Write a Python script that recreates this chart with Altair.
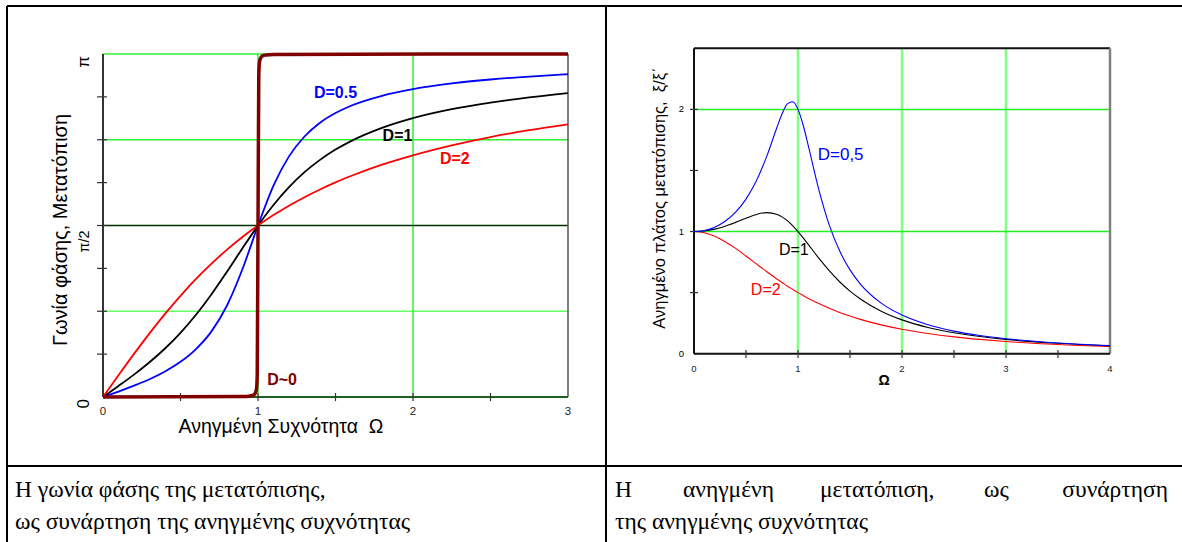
import math
import altair as alt
import pandas as pd

PI = math.pi

# ---------------- left panel: phase angle vs reduced frequency ----------------
omega_phase = [0, 0.1, 0.2, 0.3, 0.4, 0.5, 0.6, 0.7, 0.8, 0.9, 1.0, 1.1, 1.2, 1.3,
               1.4, 1.5, 1.6, 1.8, 2.0, 2.25, 2.5, 2.75, 3.0]
phase_d05 = [0, 0.050, 0.104, 0.163, 0.234, 0.322, 0.439, 0.601, 0.838, 1.172, 1.571,
             1.936, 2.204, 2.386, 2.512, 2.601, 2.668, 2.759, 2.820, 2.872, 2.908, 2.935, 2.956]
phase_d1 = [0, 0.101, 0.205, 0.318, 0.444, 0.588, 0.753, 0.941, 1.148, 1.363, 1.571,
            1.759, 1.922, 2.059, 2.172, 2.266, 2.344, 2.465, 2.554, 2.636, 2.697, 2.744, 2.783]
phase_d2 = [0, 0.199, 0.395, 0.583, 0.761, 0.927, 1.081, 1.221, 1.350, 1.466, 1.571,
            1.666, 1.752, 1.830, 1.901, 1.966, 2.024, 2.128, 2.214, 2.305, 2.381, 2.444, 2.498]
omega_d0 = [0, 0.90, 0.95, 0.97, 0.98, 0.99, 0.995, 1.0, 1.005, 1.01, 1.02, 1.03, 1.05, 1.10, 3.0]
phase_d0 = [0, 0.004, 0.010, 0.017, 0.030, 0.070, 0.200, 1.571, 2.942, 3.072, 3.112,
            3.125, 3.132, 3.138, 3.1416]

phase_label_text = ["D=0.5", "D=1", "D=2", "D~0"]
phase_label_x = [1.50, 1.90, 2.27, 1.155]
phase_label_y = [2.78, 2.39, 2.18, 0.156]

phase_xtick_values = [0, 1, 2, 3]
phase_xtick_labels = ["0", "1", "2", "3"]
phase_ytick_values = [0, 1.5708, 3.1416]
phase_ytick_labels = ["0", "π/2", "π"]
phase_xminor = [0.5, 1.0, 1.5, 2.0, 2.5]
phase_yminor = [0.3927, 0.7854, 1.1781, 1.5708, 1.9635, 2.3562, 2.7489]
phase_grid_light = [0.7854]
phase_grid_green = [2.3562, 3.1416]
phase_grid_dark = [1.5708]
phase_grid_x = [1, 2]

# ---------------- right panel: reduced amplitude vs reduced frequency ----------------
omega_amp = [0, 0.1, 0.2, 0.3, 0.4, 0.5, 0.6, 0.7, 0.8, 0.85, 0.9, 0.95, 1.0, 1.05, 1.1,
             1.2, 1.3, 1.4, 1.5, 1.6, 1.8, 2.0, 2.25, 2.5, 2.75, 3.0, 3.5, 4.0]
amp_d05 = [1.000, 1.009, 1.036, 1.084, 1.158, 1.265, 1.415, 1.617, 1.858, 1.970, 2.047,
           2.062, 2.000, 1.870, 1.699, 1.344, 1.055, 0.842, 0.686, 0.570, 0.414, 0.316,
           0.237, 0.185, 0.149, 0.123, 0.088, 0.066]
amp_d1 = [1.000, 1.005, 1.020, 1.044, 1.075, 1.109, 1.140, 1.155, 1.140, 1.118, 1.087,
          1.047, 1.000, 0.948, 0.893, 0.782, 0.680, 0.589, 0.512, 0.448, 0.348, 0.277,
          0.215, 0.172, 0.141, 0.117, 0.085, 0.064]
amp_d2 = [1.000, 0.990, 0.962, 0.917, 0.862, 0.800, 0.735, 0.671, 0.610, 0.581, 0.552,
          0.526, 0.500, 0.476, 0.452, 0.410, 0.372, 0.338, 0.308, 0.281, 0.236, 0.200,
          0.165, 0.138, 0.117, 0.100, 0.075, 0.059]

amp_label_text = ["D=0,5", "D=1", "D=2"]
amp_label_x = [1.41, 0.96, 0.69]
amp_label_y = [1.63, 0.85, 0.52]

amp_xtick_values = [0, 1, 2, 3, 4]
amp_xtick_labels = ["0", "1", "2", "3", "4"]
amp_ytick_values = [0, 1, 2]
amp_ytick_labels = ["0", "1", "2"]
amp_xminor = [0.5, 1.0, 1.5, 2.0, 2.5, 3.0, 3.5]
amp_yminor = [0.5, 1.0, 1.5, 2.0]
amp_grid_x = [1, 2, 3]
amp_grid_y = [1, 2]

FONT = "Liberation Sans"
SERIF = "Liberation Serif, DejaVu Serif, serif"

xL = alt.Scale(domain=[0, 3], range=[103, 568], nice=False, zero=False)
yL = alt.Scale(domain=[0, PI], range=[397, 54], nice=False, zero=False)
xR = alt.Scale(domain=[0, 4], range=[694, 1110], nice=False, zero=False)
yR = alt.Scale(domain=[0, 2.5], range=[353.7, 48.3], nice=False, zero=False)


def hlines(vals, x0, x1, xs, ys, color, width):
    df = pd.DataFrame({"v": vals, "a": [x0] * len(vals), "b": [x1] * len(vals)})
    return alt.Chart(df).mark_rule(color=color, strokeWidth=width).encode(
        y=alt.Y("v:Q", scale=ys, axis=None),
        x=alt.X("a:Q", scale=xs, axis=None),
        x2="b:Q")


def vlines(vals, y0, y1, xs, ys, color, width):
    df = pd.DataFrame({"v": vals, "a": [y0] * len(vals), "b": [y1] * len(vals)})
    return alt.Chart(df).mark_rule(color=color, strokeWidth=width).encode(
        x=alt.X("v:Q", scale=xs, axis=None),
        y=alt.Y("a:Q", scale=ys, axis=None),
        y2="b:Q")


def yticks(vals, ys, px0, px1):
    return alt.Chart(pd.DataFrame({"v": vals})).mark_rule(color="#333333", strokeWidth=1.2).encode(
        y=alt.Y("v:Q", scale=ys, axis=None), x=alt.value(px0), x2=alt.value(px1))


def xticks(vals, xs, py0, py1):
    return alt.Chart(pd.DataFrame({"v": vals})).mark_rule(color="#333333", strokeWidth=1.2).encode(
        x=alt.X("v:Q", scale=xs, axis=None), y=alt.value(py0), y2=alt.value(py1))


def xlabels(vals, texts, xs, py, size):
    df = pd.DataFrame({"v": vals, "t": texts})
    return alt.Chart(df).mark_text(font=FONT, fontSize=size, color="#222222", align="center",
                                   baseline="middle").encode(
        x=alt.X("v:Q", scale=xs, axis=None), y=alt.value(py), text="t:N")


def ylabels(vals, texts, ys, px, size, angle=0, align="right", baseline="middle", yoff=0):
    df = pd.DataFrame({"v": vals, "t": texts})
    return alt.Chart(df).mark_text(font=FONT, fontSize=size, color="black", align=align,
                                   baseline=baseline, angle=angle).encode(
        y=alt.Y("v:Q", scale=ys, axis=None), x=alt.value(px), yOffset=alt.value(yoff),
        text="t:N")


def curve(xv, yv, xs, ys, color, width):
    df = pd.DataFrame({"x": xv, "y": yv})
    return alt.Chart(df).mark_line(color=color, strokeWidth=width, interpolate="monotone").encode(
        x=alt.X("x:Q", scale=xs, axis=None),
        y=alt.Y("y:Q", scale=ys, axis=None))


def dlabel(text, x, y, xs, ys, color, size, weight):
    df = pd.DataFrame({"x": [x], "y": [y], "t": [text]})
    return alt.Chart(df).mark_text(color=color, font=FONT, fontSize=size, fontWeight=weight,
                                   align="center", baseline="middle").encode(
        x=alt.X("x:Q", scale=xs, axis=None),
        y=alt.Y("y:Q", scale=ys, axis=None),
        text="t:N")


left = alt.layer(
    hlines(phase_grid_light, 0, 3, xL, yL, "#66ff66", 1.5),
    hlines(phase_grid_green, 0, 3, xL, yL, "#33ee33", 1.5),
    vlines(phase_grid_x, 0, PI, xL, yL, "#33ee33", 1.5),
    hlines(phase_grid_dark, 0, 3, xL, yL, "#003300", 1.5),
    vlines([3], 0, PI, xL, yL, "#555555", 1.5),
    hlines([0], 0, 3, xL, yL, "#1f5f1f", 2.2),
    vlines([0], 0, PI, xL, yL, "#333333", 2),
    yticks(phase_yminor, yL, 97, 107),
    xticks(phase_xminor, xL, 393, 401),
    xlabels(phase_xtick_values, phase_xtick_labels, xL, 411.5, 11.5),
    ylabels(phase_ytick_values[0:1] + phase_ytick_values[2:], phase_ytick_labels[0:1] + phase_ytick_labels[2:],
            yL, 89, 17, angle=270, align="right", baseline="alphabetic", yoff=2),
    ylabels(phase_ytick_values[1:2], phase_ytick_labels[1:2],
            yL, 89, 14.5, angle=270, align="right", baseline="alphabetic", yoff=5),
    curve(omega_phase, phase_d05, xL, yL, "#0000ff", 1.8),
    curve(omega_phase, phase_d1, xL, yL, "#000000", 1.8),
    curve(omega_phase, phase_d2, xL, yL, "#ff0000", 1.8),
    curve(omega_d0, phase_d0, xL, yL, "#800000", 3.5),
    dlabel(phase_label_text[0], phase_label_x[0], phase_label_y[0], xL, yL, "#0000ff", 16, "bold"),
    dlabel(phase_label_text[1], phase_label_x[1], phase_label_y[1], xL, yL, "#000000", 16, "bold"),
    dlabel(phase_label_text[2], phase_label_x[2], phase_label_y[2], xL, yL, "#ff0000", 16, "bold"),
    dlabel(phase_label_text[3], phase_label_x[3], phase_label_y[3], xL, yL, "#800000", 16, "bold"),
)

right = alt.layer(
    vlines(amp_grid_x, 0, 2.5, xR, yR, "#80ff80", 2.5),
    hlines(amp_grid_y, 0, 4, xR, yR, "#22ee22", 1.5),
    hlines([2.5], 0, 4, xR, yR, "#111111", 2),
    vlines([4], 0, 2.5, xR, yR, "#808080", 2.5),
    hlines([0], 0, 4, xR, yR, "#111111", 2),
    vlines([0], 0, 2.5, xR, yR, "#111111", 2),
    yticks(amp_yminor, yR, 690, 698),
    xticks(amp_xminor, xR, 350, 358),
    xlabels(amp_xtick_values, amp_xtick_labels, xR, 369, 9.5),
    ylabels(amp_ytick_values, amp_ytick_labels, yR, 684, 9.5),
    curve(omega_amp, amp_d2, xR, yR, "#ff0000", 1.1),
    curve(omega_amp, amp_d1, xR, yR, "#000000", 1.1),
    curve(omega_amp, amp_d05, xR, yR, "#0000ff", 1.1),
    dlabel(amp_label_text[0], amp_label_x[0], amp_label_y[0], xR, yR, "#0000ff", 17, "normal"),
    dlabel(amp_label_text[1], amp_label_x[1], amp_label_y[1], xR, yR, "#000000", 16, "normal"),
    dlabel(amp_label_text[2], amp_label_x[2], amp_label_y[2], xR, yR, "#ff0000", 16, "normal"),
)

base = alt.Chart(pd.DataFrame({"k": [0]}))


def prule(x1, y1, x2, y2, width=2, color="black"):
    return base.mark_rule(color=color, strokeWidth=width).encode(
        x=alt.value(x1), y=alt.value(y1), x2=alt.value(x2), y2=alt.value(y2))


def ptext(s, x, y, size, font=FONT, angle=0, align="center", weight="normal"):
    return base.mark_text(text=s, font=font, fontSize=size, angle=angle, align=align,
                          baseline="alphabetic", fontWeight=weight, color="black").encode(
        x=alt.value(x), y=alt.value(y))


CAP = 23.5
deco = alt.layer(
    prule(7, 6, 1182, 6, 2),
    prule(7, 6, 7, 542, 2),
    prule(606, 6, 606, 542, 2),
    prule(7, 466, 1182, 466, 2),
    ptext("Γωνία φάσης, Μετατόπιση", 67, 230, 20, angle=270),
    ptext("Ανηγμένη Συχνότητα \u00a0Ω", 281, 433, 19.5),
    ptext("Ανηγμένο πλάτος μετατόπισης, \u00a0ξ/ξ΄", 665, 198, 16.5, angle=270),
    ptext("Ω", 884, 385, 14, weight="bold"),
    ptext("Η γωνία φάσης της μετατόπισης,", 15, 497, CAP, font=SERIF, align="left"),
    ptext("ως συνάρτηση της ανηγμένης συχνότητας", 15, 529, CAP, font=SERIF, align="left"),
    ptext("Η", 615, 497, CAP, font=SERIF, align="left"),
    ptext("ανηγμένη", 683, 497, CAP, font=SERIF, align="left"),
    ptext("μετατόπιση,", 820, 497, CAP, font=SERIF, align="left"),
    ptext("ως", 984, 497, CAP, font=SERIF, align="left"),
    ptext("συνάρτηση", 1168, 497, CAP, font=SERIF, align="right"),
    ptext("της ανηγμένης συχνότητας", 615, 529, CAP, font=SERIF, align="left"),
)

chart = alt.layer(left, right, deco).resolve_scale(
    x="independent", y="independent"
).properties(
    width=1182, height=542,
    autosize=alt.AutoSizeParams(type="none"),
    padding=0,
).configure_view(strokeWidth=0)

chart.save("out.html", embed_options={"renderer": "svg", "actions": False})
